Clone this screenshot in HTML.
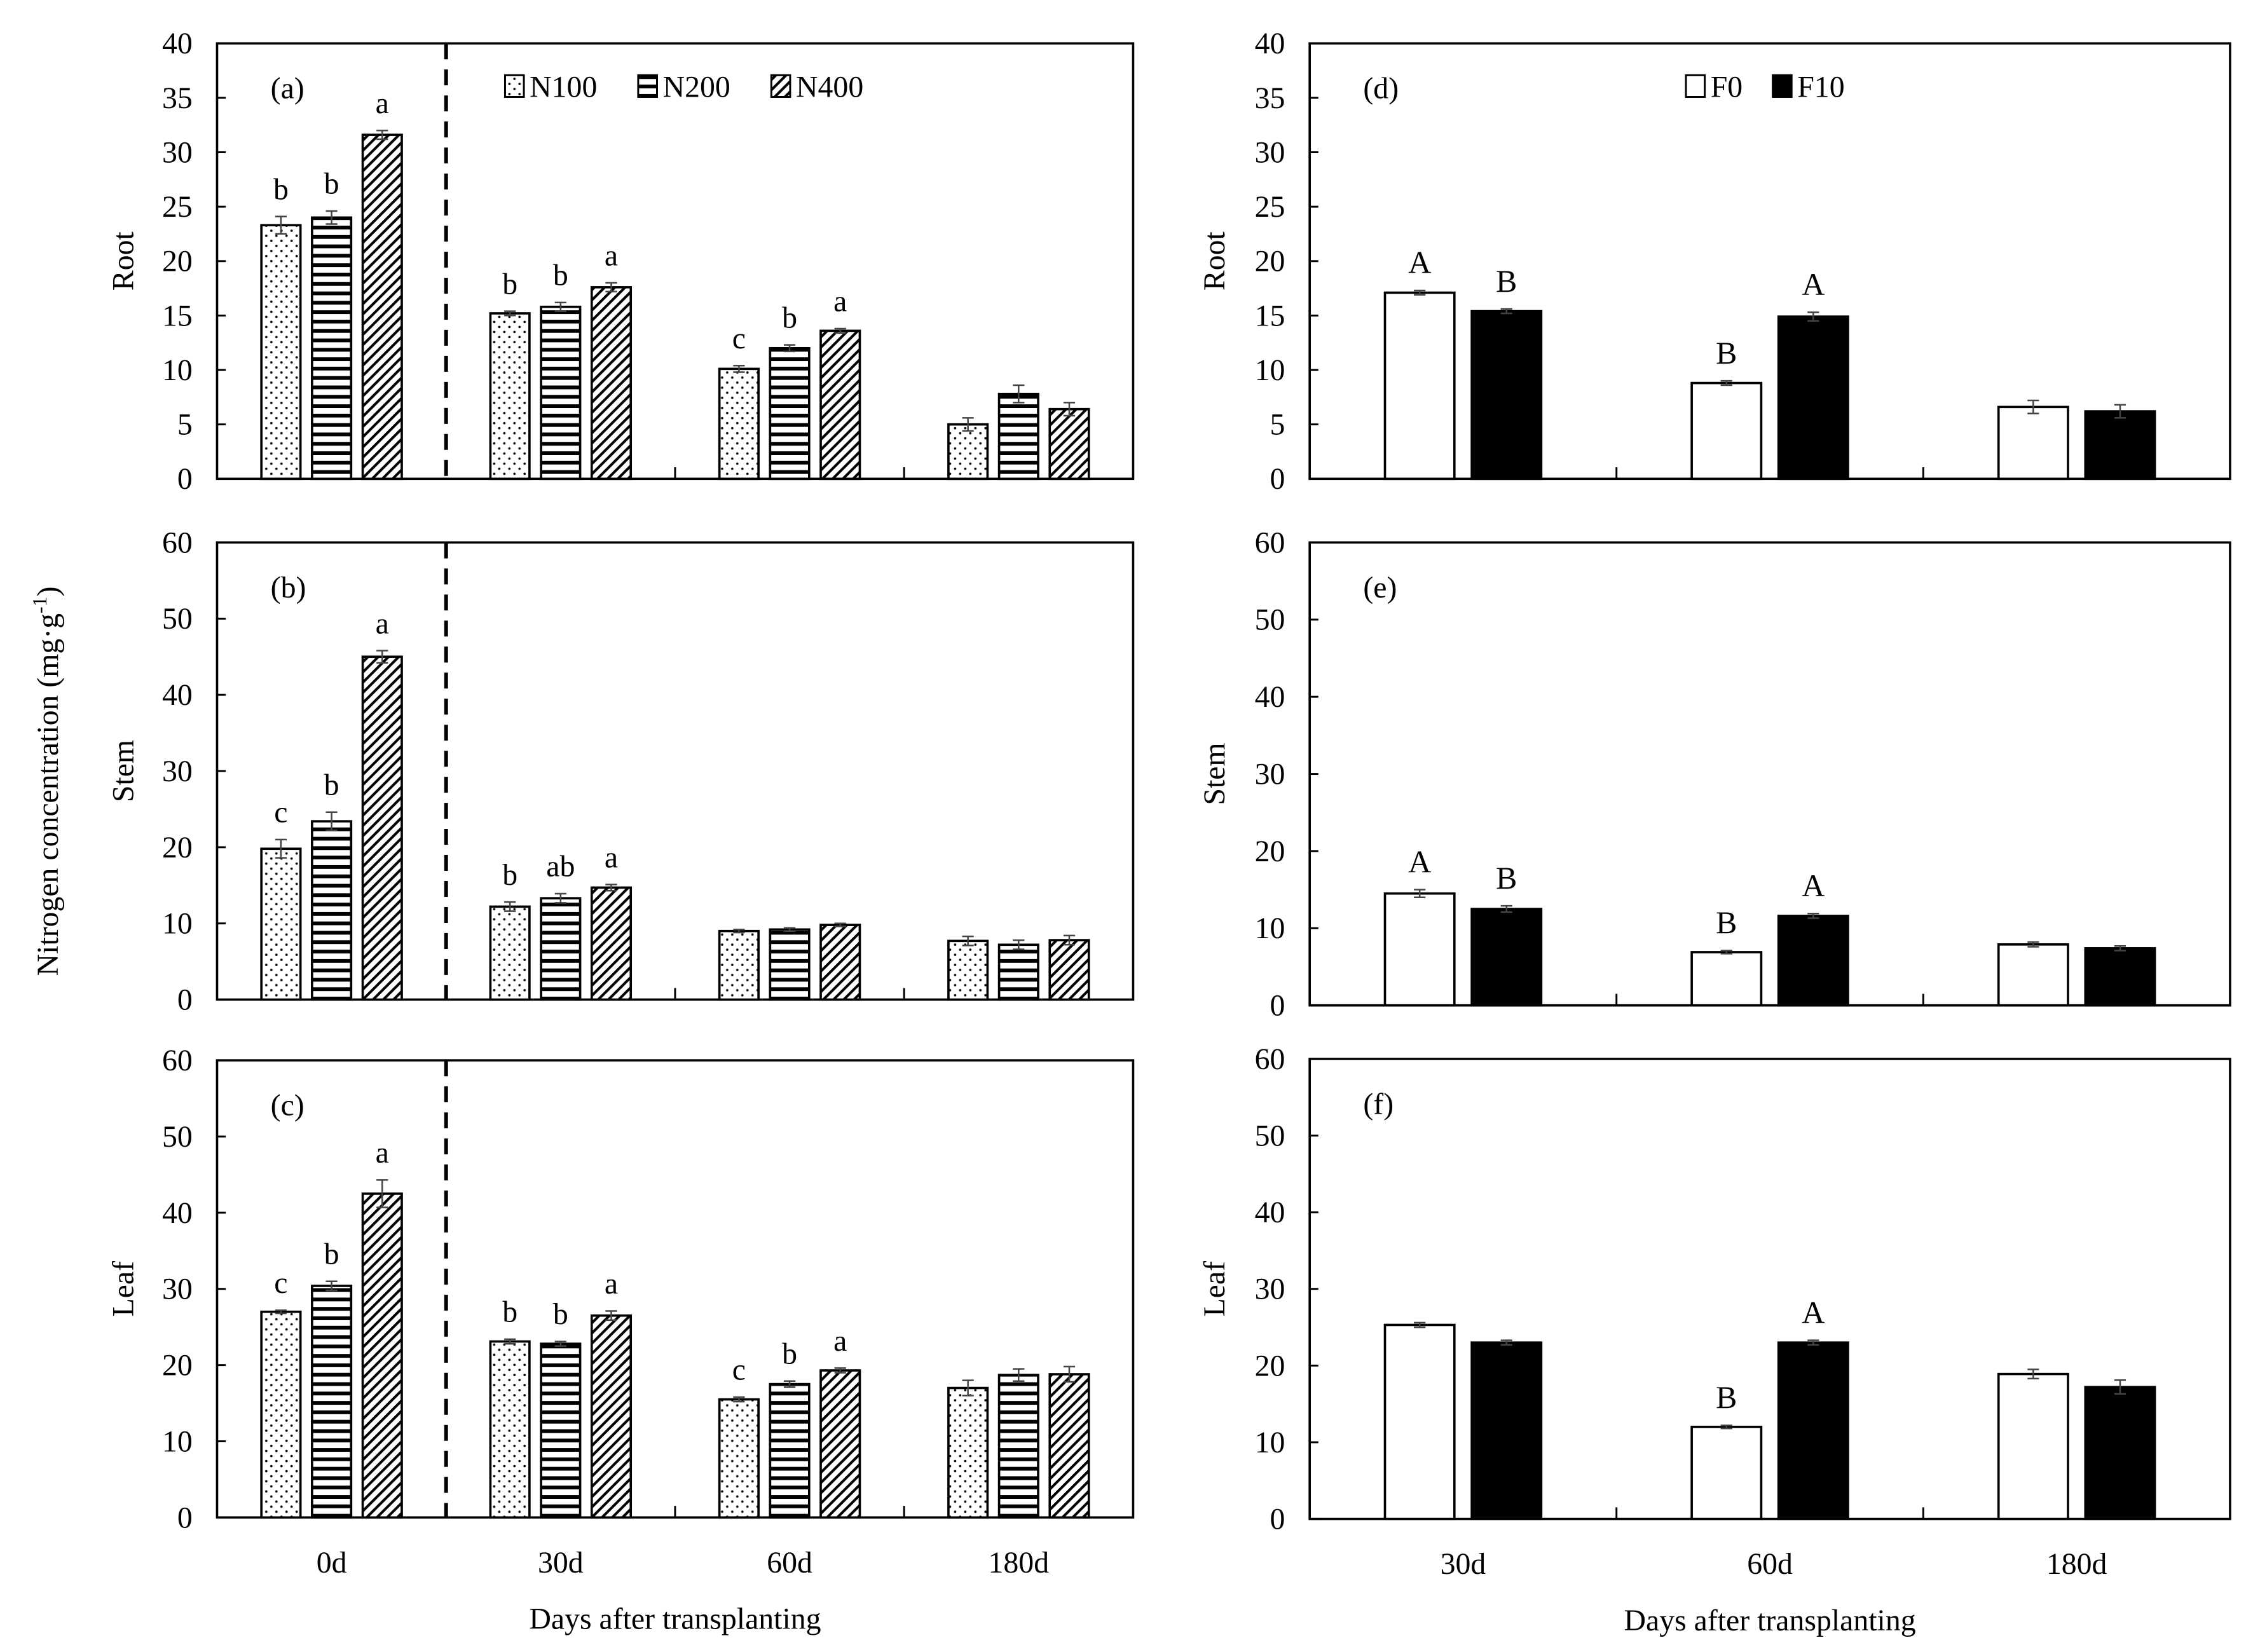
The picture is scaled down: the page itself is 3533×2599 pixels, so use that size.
<!DOCTYPE html>
<html><head><meta charset="utf-8"><style>
html,body{margin:0;padding:0;background:#fff}
svg{display:block}
text{font-family:"Liberation Serif",serif;fill:#000}
</style></head><body>
<svg id="fig" width="3533" height="2599" viewBox="0 0 1552 1142" preserveAspectRatio="none" xmlns="http://www.w3.org/2000/svg">
<defs>
<pattern id="pDot" patternUnits="userSpaceOnUse" width="7" height="7"><rect width="7" height="7" fill="#fff"/><circle cx="2" cy="2" r="0.8" fill="#000"/><circle cx="5.5" cy="5.5" r="0.8" fill="#000"/></pattern>
<pattern id="pHor" patternUnits="userSpaceOnUse" width="6" height="6.5"><rect width="6" height="6.5" fill="#fff"/><rect y="0" width="6" height="2.6" fill="#000"/></pattern>
<pattern id="pDia" patternUnits="userSpaceOnUse" width="5" height="5" patternTransform="rotate(45)"><rect width="5" height="5" fill="#fff"/><rect width="1.8" height="5" fill="#000"/></pattern>
</defs>
<g id="root"></g>
</svg>
<script>
// ---- data ----
const leftCats = ["0d","30d","60d","180d"];
const rightCats = ["30d","60d","180d"];
const nSeries = ["N100","N200","N400"];
const fSeries = ["F0","F10"];
// panel a (Root)
const aVals = [[23.3,24.0,31.6],[15.2,15.8,17.6],[10.1,12.0,13.6],[5.0,7.8,6.4]];
const aErr = [[0.8,0.6,0.4],[0.2,0.4,0.4],[0.3,0.3,0.2],[0.6,0.8,0.6]];
const aLet = [["b","b","a"],["b","b","a"],["c","b","a"],["","",""]];
// panel b (Stem)
const bVals = [[19.8,23.4,45.0],[12.2,13.3,14.7],[9.0,9.2,9.8],[7.7,7.2,7.8]];
const bErr = [[1.2,1.2,0.8],[0.6,0.6,0.4],[0.2,0.2,0.2],[0.6,0.6,0.6]];
const bLet = [["c","b","a"],["b","ab","a"],["","",""],["","",""]];
// panel c (Leaf)
const cVals = [[27.0,30.4,42.5],[23.1,22.8,26.5],[15.5,17.5,19.3],[17.0,18.7,18.8]];
const cErr = [[0.2,0.6,1.8],[0.3,0.3,0.6],[0.3,0.4,0.3],[1.0,0.8,1.0]];
const cLet = [["c","b","a"],["b","b","a"],["c","b","a"],["","",""]];
// panel d (Root)
const dVals = [[17.1,15.4],[8.8,14.9],[6.6,6.2]];
const dErr = [[0.2,0.2],[0.2,0.4],[0.6,0.6]];
const dLet = [["A","B"],["B","A"],["",""]];
// panel e (Stem)
const eVals = [[14.5,12.5],[6.9,11.6],[7.9,7.4]];
const eErr = [[0.5,0.4],[0.2,0.3],[0.3,0.3]];
const eLet = [["A","B"],["B","A"],["",""]];
// panel f (Leaf)
const fVals = [[25.3,23.0],[12.0,23.0],[18.9,17.2]];
const fErr = [[0.3,0.3],[0.2,0.3],[0.6,0.9]];
const fLet = [["",""],["B","A"],["",""]];
const rootTicks = [0,5,10,15,20,25,30,35,40];
const tenTicks = [0,10,20,30,40,50,60];

const NS="http://www.w3.org/2000/svg";
const root=document.getElementById('root');
function el(tag,attrs,parent,txt){const e=document.createElementNS(NS,tag);for(const k in attrs)e.setAttribute(k,attrs[k]);if(txt!==undefined)e.textContent=txt;(parent||root).appendChild(e);return e;}

function panel(o){
  const g=el('g',{});
  
  
  const x0=o.x0,x1=o.x1,yT=o.yT,yB=o.yB,max=o.max;
  const ys=v=>yB-(v/max)*(yB-yT);
  const nc=o.cats.length, gw=(x1-x0)/nc;
  const xc=i=>x0+gw*(i+0.5);
  // frame
  const fr=el('rect',{x:x0,y:yT,width:x1-x0,height:yB-yT,fill:'none',stroke:'#000','stroke-width':1.6},g);
  
  
  // y ticks
  o.ticks.forEach(t=>{
    const y=ys(t);
    const tk=el('line',{x1:x0,x2:x0+6,y1:y,y2:y,stroke:'#000','stroke-width':1.3},g);
    
    
    const tl=el('text',{x:x0-17,y:y+7,'text-anchor':'end','font-size':21},g,String(t));
    
    
  });
  // category separators
  for(let i=1;i<nc;i++){
    const x=x0+gw*i;
    if(o.dashed&&i===1){
      const d=el('line',{x1:x,x2:x,y1:yT,y2:yB,stroke:'#000','stroke-width':2.6,'stroke-dasharray':'11,7'},g);
      
      
    } else {
      const s=el('line',{x1:x,x2:x,y1:yB,y2:yB-8,stroke:'#000','stroke-width':1.3},g);
      
      
    }
  }
  // bars
  const ns=o.vals[0].length;
  o.vals.forEach((grp,i)=>{
    grp.forEach((v,j)=>{
      const off=(j-(ns-1)/2)*o.step;
      const bx=xc(i)+off-o.bw/2, by=ys(v);
      const b=el('rect',{x:bx,y:by,width:o.bw,height:yB-by,fill:o.fills[j],stroke:'#000','stroke-width':1.6},g);
      
      
      const e=o.err[i][j], cx=xc(i)+off, ey1=ys(v+e), ey2=ys(v-e);
      const eb=el('path',{d:`M${cx},${ey1}V${ey2}M${cx-4},${ey1}H${cx+4}M${cx-4},${ey2}H${cx+4}`,stroke:'#444','stroke-width':1.1,fill:'none'},g);
      
      
      const L=o.lets[i][j];
      if(L){
        const lt=el('text',{x:cx,y:ey1-12,'text-anchor':'middle','font-size':o.letSize},g,L);
        
        
      }
    });
  });
  const pl=el('text',{x:x0+37,y:yT+38,'font-size':21},g,'('+o.id+')');
  
  
  const yl=el('text',{x:o.ylx,y:(yT+yB)/2,'text-anchor':'middle','font-size':21,transform:`rotate(-90 ${o.ylx} ${(yT+yB)/2})`},g,o.ylab);
  
  
  if(o.xlabels){
    o.cats.forEach((c,i)=>{
      const t=el('text',{x:xc(i),y:yB+38,'text-anchor':'middle','font-size':21},g,c);
      
      
    });
    const xt=el('text',{x:(x0+x1)/2,y:yB+77,'text-anchor':'middle','font-size':21},g,'Days after transplanting');
    
    
  }
}
const nf=['url(#pDot)','url(#pHor)','url(#pDia)'];
const ff=['#fff','#000'];
const L={x0:150,x1:783,bw:27,step:35,cats:leftCats,series:nSeries,fills:nf,dashed:true,letSize:21,ylx:92};
const R={x0:905,x1:1541,bw:48,step:60,cats:rightCats,series:fSeries,fills:ff,dashed:false,letSize:22,ylx:846};
panel(Object.assign({},L,{id:'a',yT:30,yB:331,max:40,ticks:rootTicks,vals:aVals,err:aErr,lets:aLet,ylab:'Root'}));
panel(Object.assign({},L,{id:'b',yT:375,yB:691,max:60,ticks:tenTicks,vals:bVals,err:bErr,lets:bLet,ylab:'Stem'}));
panel(Object.assign({},L,{id:'c',yT:733,yB:1049,max:60,ticks:tenTicks,vals:cVals,err:cErr,lets:cLet,ylab:'Leaf',xlabels:true}));
panel(Object.assign({},R,{id:'d',yT:30,yB:331,max:40,ticks:rootTicks,vals:dVals,err:dErr,lets:dLet,ylab:'Root'}));
panel(Object.assign({},R,{id:'e',yT:375,yB:695,max:60,ticks:tenTicks,vals:eVals,err:eErr,lets:eLet,ylab:'Stem'}));
panel(Object.assign({},R,{id:'f',yT:732,yB:1050,max:60,ticks:tenTicks,vals:fVals,err:fErr,lets:fLet,ylab:'Leaf',xlabels:true}));

// global y title
const gt=el('text',{x:40,y:540,'text-anchor':'middle','font-size':21,transform:'rotate(-90 40 540)'});


gt.appendChild(document.createTextNode('Nitrogen concentration (mg·g'));
const sp=el('tspan',{dy:-8,'font-size':14},gt,'-1');
el('tspan',{dy:8},gt,')');

// legends
function legend(items,fills,xs,y,name){
  const g=el('g',{});
  
  
  items.forEach((it,i)=>{
    const r=el('rect',{x:xs[i],y:y-8,width:13,height:15,fill:fills[i],stroke:'#000','stroke-width':1.3},g);
    
    
    const t=el('text',{x:xs[i]+17,y:y+7,'font-size':21},g,it);
    
    
  });
}
legend(nSeries,nf,[349,441,533],60,'legend-nitrogen');
legend(fSeries,ff,[1165,1225],60,'legend-fertilizer');
</script>
</body></html>
